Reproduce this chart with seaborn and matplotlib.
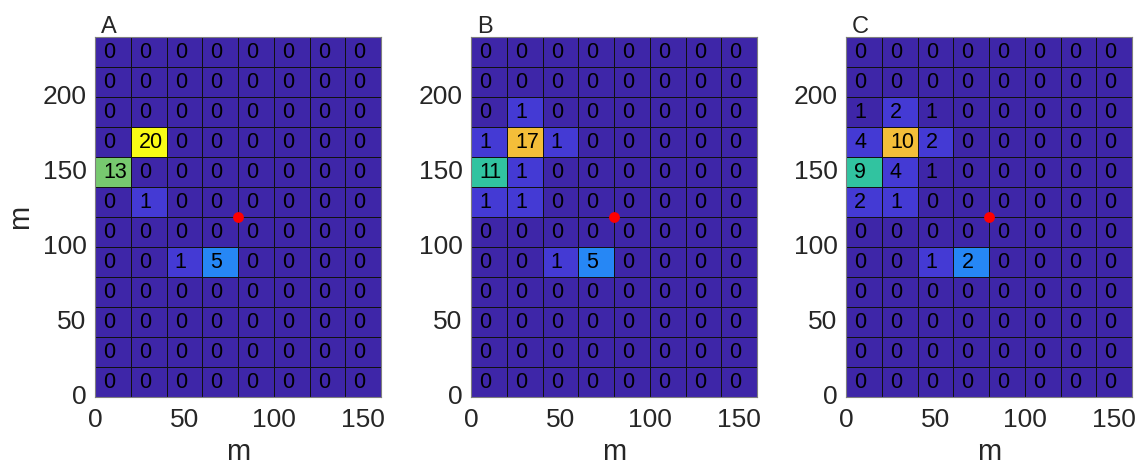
import numpy as np
import matplotlib
matplotlib.use("Agg")
import matplotlib.pyplot as plt
from matplotlib.colors import LinearSegmentedColormap
import seaborn as sns

# ---------------- data (rows listed top -> bottom, as in the picture) ----------------
panel_titles = ["A", "B", "C"]
cell_size = 20  # m
x_ticks = [0, 50, 100, 150]
y_ticks = [0, 50, 100, 150, 200]
marker_xy = (80, 120)

counts_A = [
    [0, 0, 0, 0, 0, 0, 0, 0],
    [0, 0, 0, 0, 0, 0, 0, 0],
    [0, 0, 0, 0, 0, 0, 0, 0],
    [0, 20, 0, 0, 0, 0, 0, 0],
    [13, 0, 0, 0, 0, 0, 0, 0],
    [0, 1, 0, 0, 0, 0, 0, 0],
    [0, 0, 0, 0, 0, 0, 0, 0],
    [0, 0, 1, 5, 0, 0, 0, 0],
    [0, 0, 0, 0, 0, 0, 0, 0],
    [0, 0, 0, 0, 0, 0, 0, 0],
    [0, 0, 0, 0, 0, 0, 0, 0],
    [0, 0, 0, 0, 0, 0, 0, 0],
]
counts_B = [
    [0, 0, 0, 0, 0, 0, 0, 0],
    [0, 0, 0, 0, 0, 0, 0, 0],
    [0, 1, 0, 0, 0, 0, 0, 0],
    [1, 17, 1, 0, 0, 0, 0, 0],
    [11, 1, 0, 0, 0, 0, 0, 0],
    [1, 1, 0, 0, 0, 0, 0, 0],
    [0, 0, 0, 0, 0, 0, 0, 0],
    [0, 0, 1, 5, 0, 0, 0, 0],
    [0, 0, 0, 0, 0, 0, 0, 0],
    [0, 0, 0, 0, 0, 0, 0, 0],
    [0, 0, 0, 0, 0, 0, 0, 0],
    [0, 0, 0, 0, 0, 0, 0, 0],
]
counts_C = [
    [0, 0, 0, 0, 0, 0, 0, 0],
    [0, 0, 0, 0, 0, 0, 0, 0],
    [1, 2, 1, 0, 0, 0, 0, 0],
    [4, 10, 2, 0, 0, 0, 0, 0],
    [9, 4, 1, 0, 0, 0, 0, 0],
    [2, 1, 0, 0, 0, 0, 0, 0],
    [0, 0, 0, 0, 0, 0, 0, 0],
    [0, 0, 1, 2, 0, 0, 0, 0],
    [0, 0, 0, 0, 0, 0, 0, 0],
    [0, 0, 0, 0, 0, 0, 0, 0],
    [0, 0, 0, 0, 0, 0, 0, 0],
    [0, 0, 0, 0, 0, 0, 0, 0],
]
# colour shading of each panel (panel C is shaded with the panel-B field)
shade_A = counts_A
shade_B = counts_B
shade_C = counts_B
color_limits = (0, 20)

# ---------------- parula-like colormap ----------------
parula_anchors = [
    (0.2422, 0.1504, 0.6603),
    (0.2725, 0.2541, 0.8900),
    (0.2803, 0.3400, 0.9800),
    (0.2000, 0.4500, 0.9950),
    (0.1500, 0.5300, 0.9600),
    (0.1200, 0.6000, 0.8900),
    (0.0700, 0.6600, 0.8300),
    (0.0300, 0.7000, 0.7600),
    (0.0900, 0.7400, 0.6900),
    (0.2200, 0.7700, 0.6100),
    (0.4000, 0.7900, 0.4800),
    (0.5600, 0.7900, 0.3700),
    (0.7300, 0.7700, 0.2700),
    (0.9000, 0.7400, 0.2300),
    (0.9950, 0.7500, 0.2200),
    (0.9700, 0.8700, 0.1400),
    (0.9769, 0.9839, 0.0805),
]
parula = LinearSegmentedColormap.from_list("parula", parula_anchors, N=256)

sns.set_theme(style="white")
plt.rcParams["font.family"] = ["Liberation Sans", "DejaVu Sans"]

fig = plt.figure(figsize=(11.41, 4.70), dpi=100)
lefts = [95 / 1141, 471 / 1141, 846 / 1141]
ax_w = 286 / 1141
ax_b = 1 - 397 / 470
ax_h = 360 / 470

panels = [(counts_A, shade_A), (counts_B, shade_B), (counts_C, shade_C)]
for i, (cnt, shd) in enumerate(panels):
    ax = fig.add_axes([lefts[i], ax_b, ax_w, ax_h])
    cnt = np.flipud(np.array(cnt))
    shd = np.flipud(np.array(shd))
    nrows, ncols = cnt.shape
    sns.heatmap(shd, annot=cnt, fmt="d", cmap=parula,
                vmin=color_limits[0], vmax=color_limits[1], cbar=False,
                linewidths=0.6, linecolor="#111111", ax=ax,
                annot_kws={"color": "black", "fontsize": 15.5})
    ax.set_ylim(0, nrows)
    ax.set_xlim(0, ncols)
    for t in ax.texts:
        x, y = t.get_position()
        t.set_position((x - 0.27, y - 0.03))
        t.set_ha("left")
    ax.set_xticks(np.array(x_ticks) / cell_size)
    ax.set_xticklabels([str(v) for v in x_ticks], rotation=0)
    ax.set_yticks(np.array(y_ticks) / cell_size)
    ax.set_yticklabels([str(v) for v in y_ticks], rotation=0, va="center")
    ax.tick_params(axis="both", length=0, labelsize=19, colors="#262626")
    ax.tick_params(axis="x", pad=8)
    ax.tick_params(axis="y", pad=6)
    ax.scatter([marker_xy[0] / cell_size], [marker_xy[1] / cell_size],
               s=60, color="red", zorder=5, clip_on=False, linewidths=0)
    for sp in ax.spines.values():
        sp.set_visible(True)
        sp.set_color("#7f7f7f")
        sp.set_linewidth(0.8)
    ax.set_xlabel("m", fontsize=21, color="#262626", labelpad=4)
    if i == 0:
        ax.set_ylabel("m", fontsize=21, color="#262626", labelpad=6)
    else:
        ax.set_ylabel("")
    ax.set_title(panel_titles[i], loc="left", fontsize=17, pad=3, x=0.02)

fig.savefig("out.png", dpi=100)
